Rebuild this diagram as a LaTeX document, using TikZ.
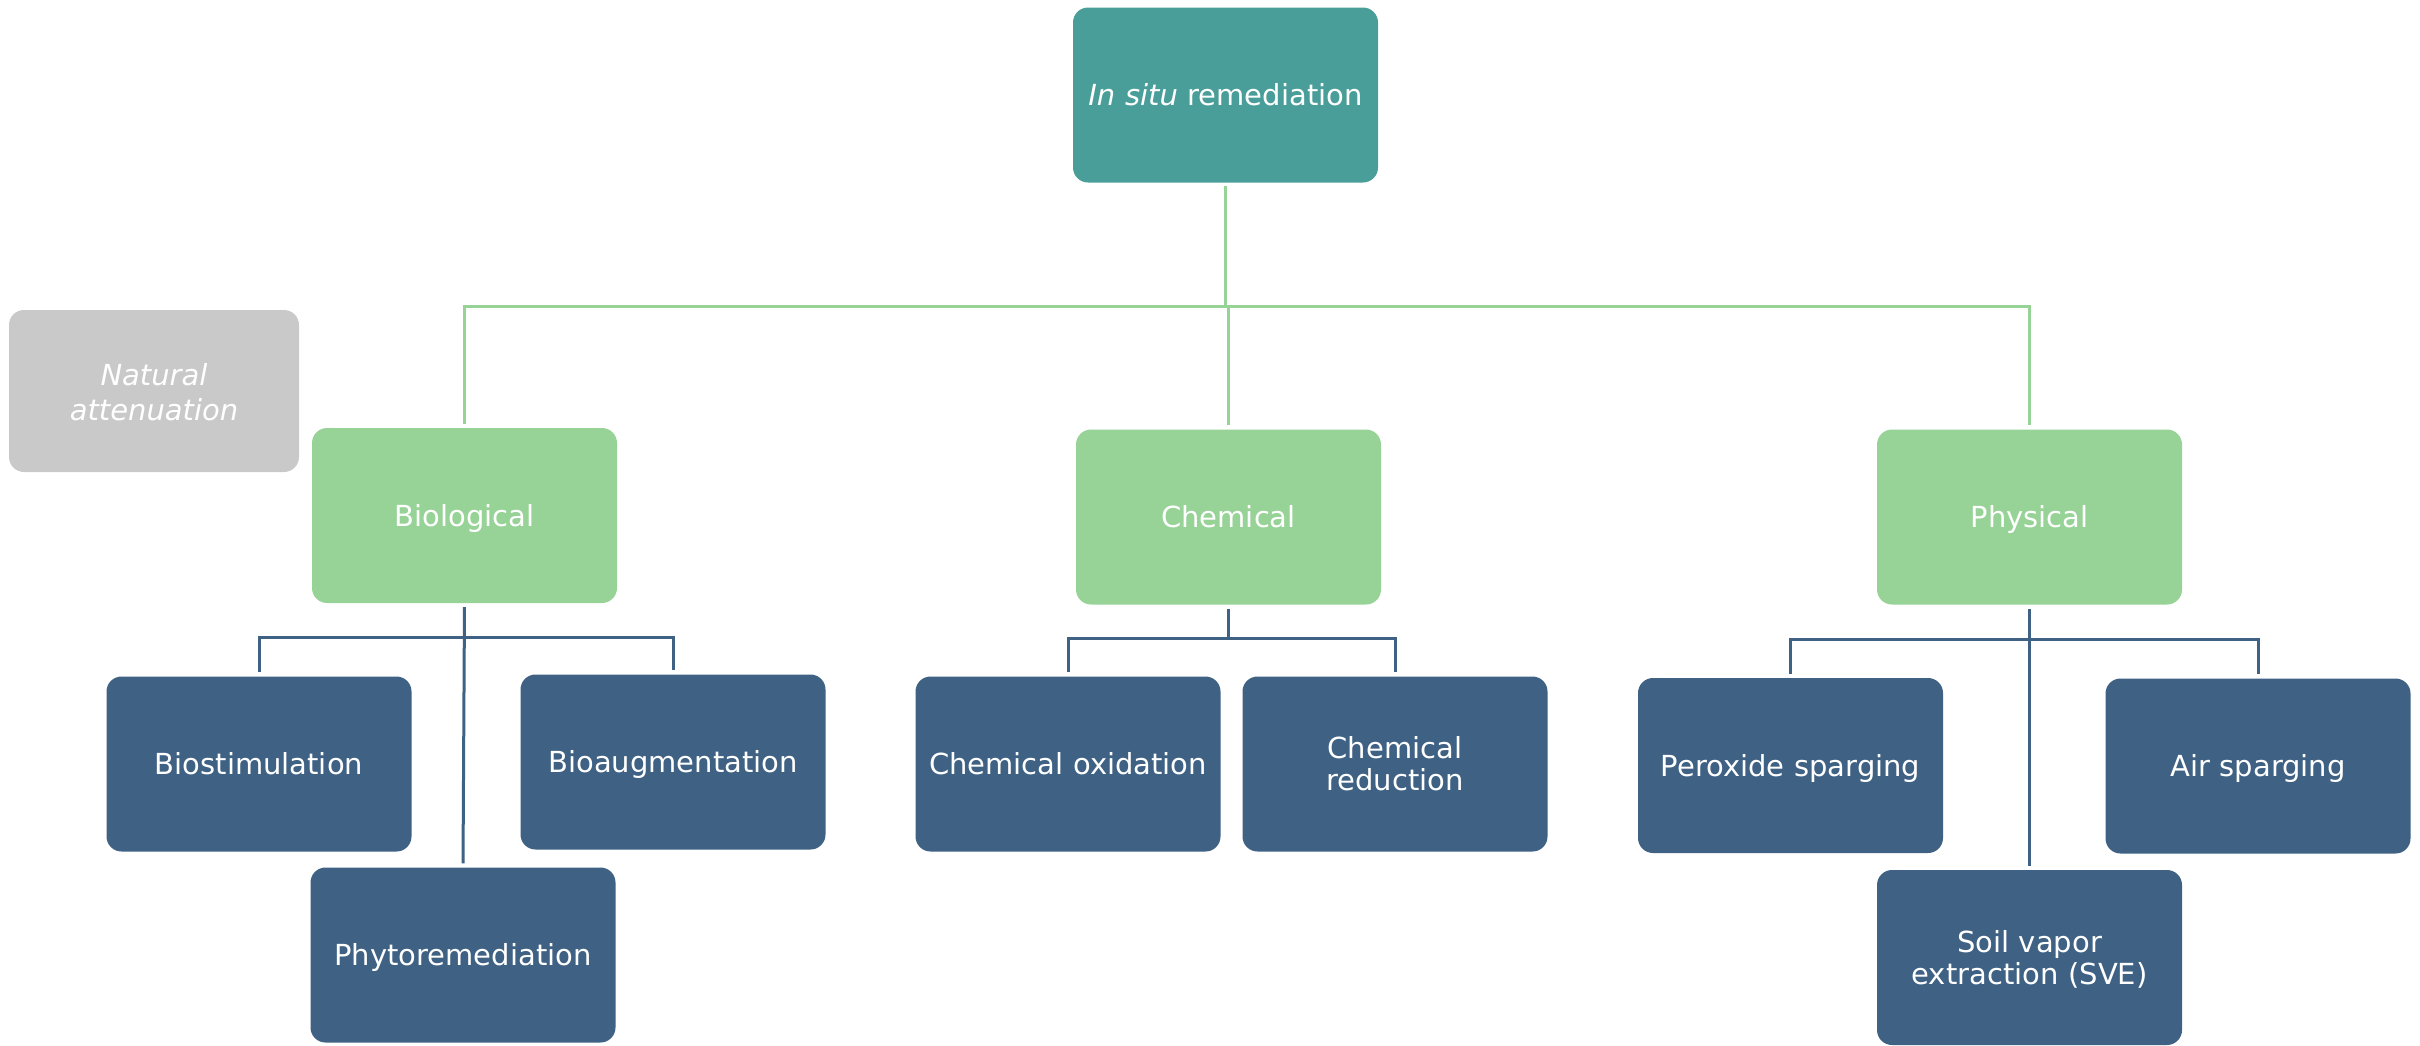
\documentclass[tikz,border=0pt]{standalone}
\usepackage{fontspec}
\setmainfont{DejaVu Sans}
\definecolor{teal1}{HTML}{4A9E99}
\definecolor{green1}{HTML}{97D396}
\definecolor{blue1}{HTML}{3E6184}
\definecolor{gray1}{HTML}{C9C9C9}
\tikzset{
  box/.style={rounded corners=15pt, minimum width=305pt, minimum height=175pt, inner sep=0pt,
    text width=285pt, align=center, text=white, font=\fontsize{29}{32}\selectfont,
    text height=21pt, text depth=0pt},
  twoline/.style={text depth=32pt},
  topbox/.style={box, fill=teal1},
  midbox/.style={box, fill=green1},
  leafbox/.style={box, fill=blue1},
  natbox/.style={box, fill=gray1, minimum width=290pt, minimum height=162pt, text width=270pt,
    font=\fontsize{29}{35}\selectfont\itshape, text depth=32pt},
  gline/.style={draw=green1, line width=3pt},
  bline/.style={draw=blue1, line width=3pt},
}
\begin{document}
\begin{tikzpicture}[x=1pt,y=1pt]
\path[use as bounding box] (0,0) rectangle (2420,-1045);
\node[topbox] (top) at (1225.5,-95) {\textit{In situ} remediation};
\node[natbox] (nat) at (154,-391) {Natural\\attenuation};
\node[midbox] (bio) at (464.5,-515.5) {Biological};
\node[midbox] (chem) at (1228.5,-517) {Chemical};
\node[midbox] (phys) at (2029.5,-517) {Physical};
\node[leafbox] (bstim) at (259,-764) {Biostimulation};
\node[leafbox] (baug) at (673,-762) {Bioaugmentation};
\node[leafbox] (phyto) at (463,-955) {Phytoremediation};
\node[leafbox] (chox) at (1068,-764) {Chemical oxidation};
\node[leafbox, twoline] (chred) at (1395,-764) {Chemical\\reduction};
\node[leafbox] (perox) at (1790.5,-765.5) {Peroxide sparging};
\node[leafbox] (air) at (2258,-766) {Air sparging};
\node[leafbox, twoline] (sve) at (2029.5,-957.5) {Soil vapor\\extraction (SVE)};
% green connectors
\coordinate (G) at ([yshift=-124pt]top.south);
\draw[gline, shorten <=3pt] (top.south) -- (G);
\draw[gline, shorten <=4pt, shorten >=4pt] (bio.north) |- (G) -| (phys.north);
\draw[gline, shorten >=4pt] (G -| chem.north) -- (chem.north);
% biological
\coordinate (B) at ([yshift=-34pt]bio.south);
\draw[bline, shorten <=4pt, shorten >=4pt] (bstim.north) |- (B) -| (baug.north);
\draw[bline, shorten <=4pt, shorten >=4pt] (bio.south) -- (phyto.north);
% chemical
\coordinate (C) at ([yshift=-34pt]chem.south);
\draw[bline, shorten <=4pt] (chem.south) -- (C);
\draw[bline, shorten <=4pt, shorten >=4pt] (chox.north) |- (C) -| (chred.north);
% physical
\coordinate (P) at ([yshift=-35pt]phys.south);
\draw[bline, shorten <=4pt, shorten >=4pt] (perox.north) |- (P) -| (air.north);
\draw[bline, shorten <=4pt, shorten >=4pt] (phys.south) -- (sve.north);
\end{tikzpicture}
\end{document}
